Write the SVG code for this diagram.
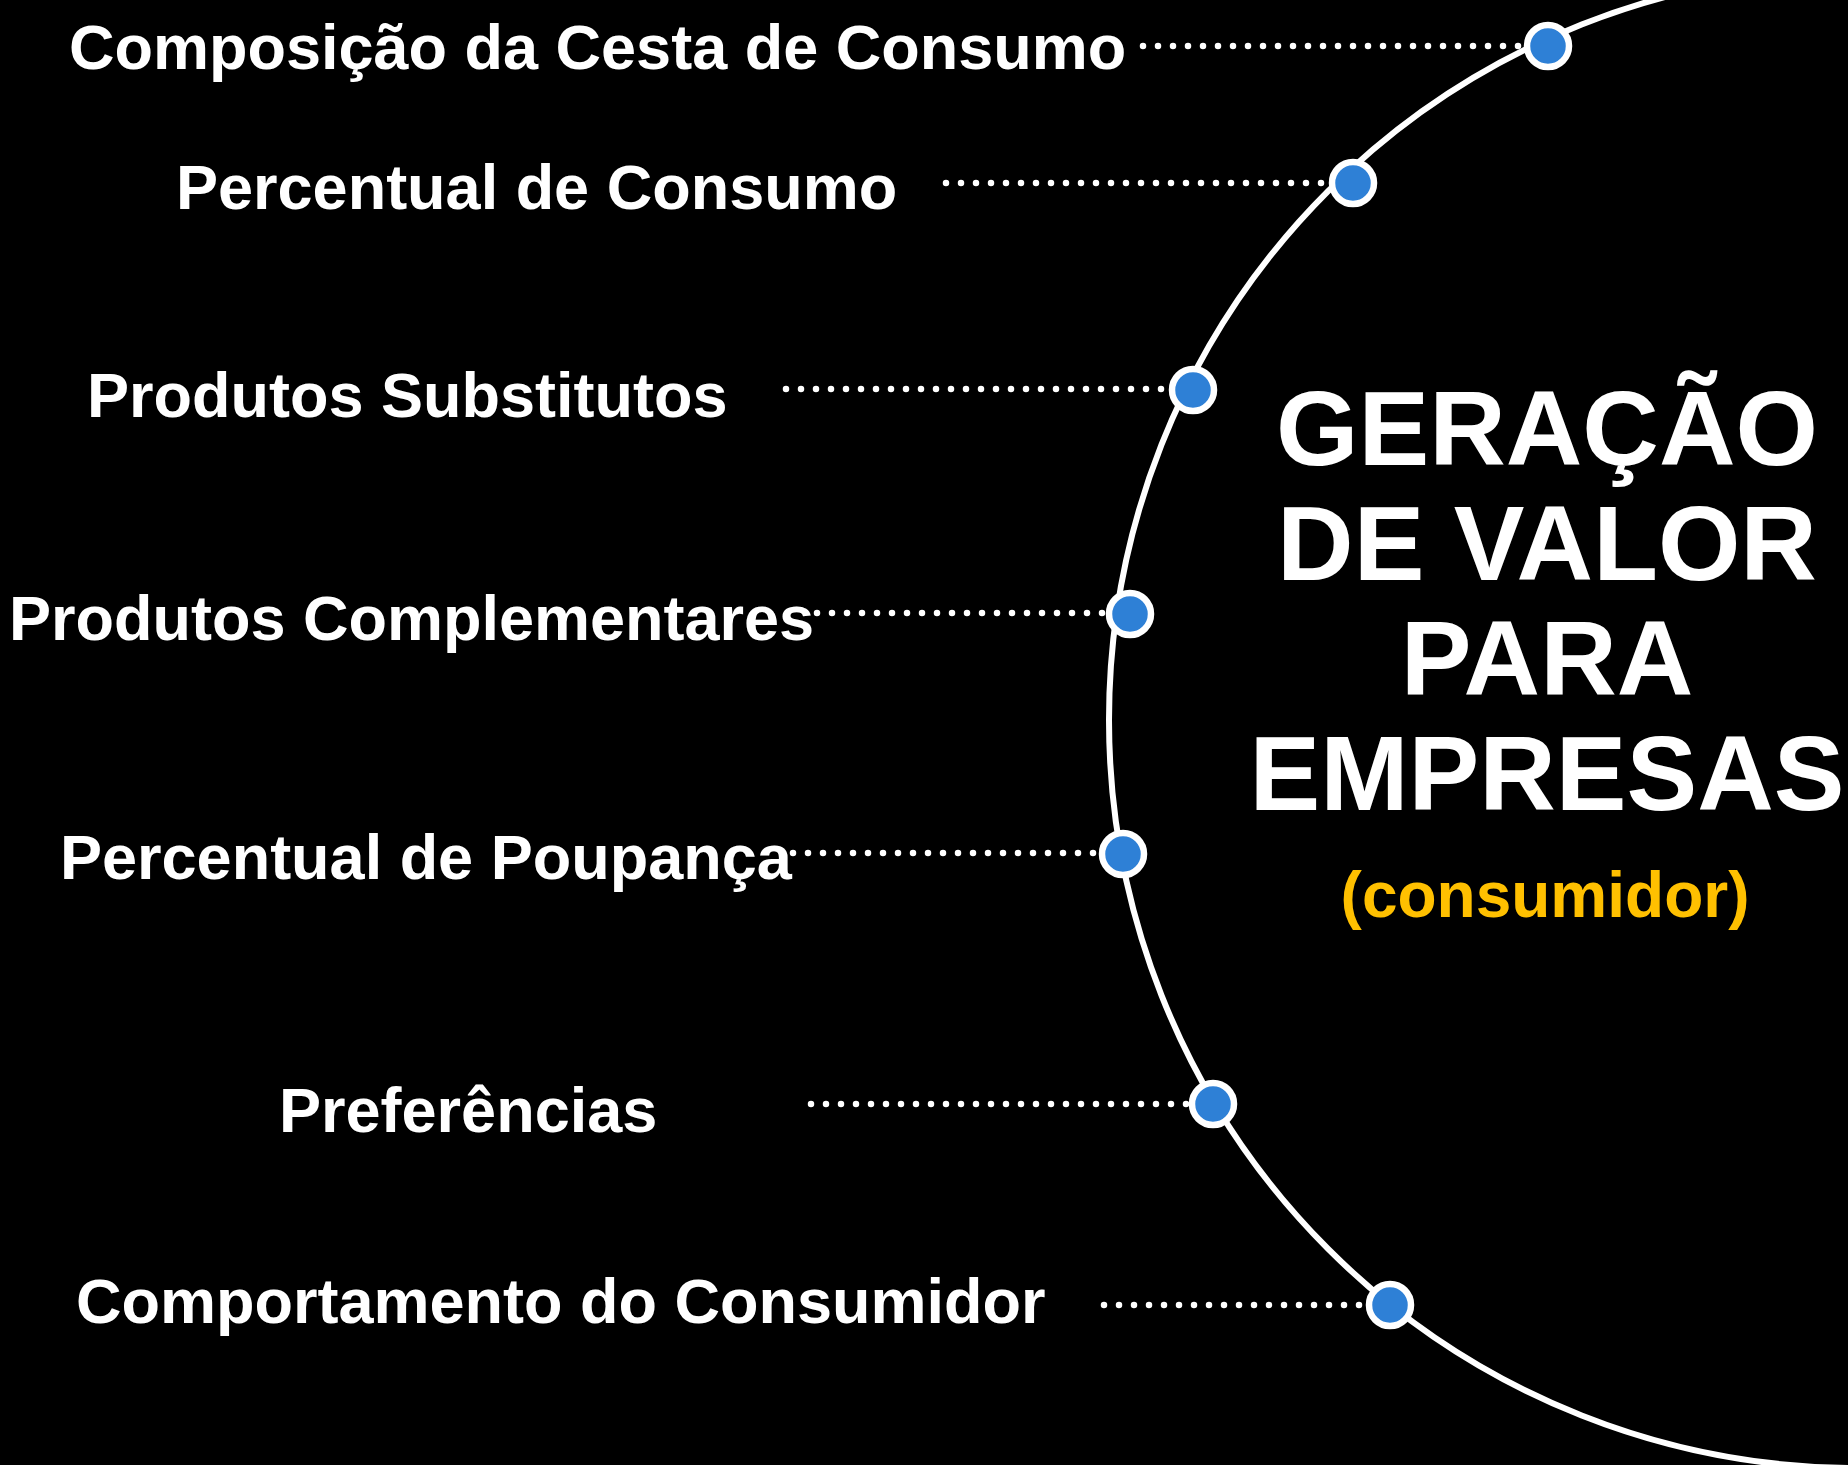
<svg xmlns="http://www.w3.org/2000/svg" width="1848" height="1465" viewBox="0 0 1848 1465">
  <style>
    .lbl { font-family: "Liberation Sans", Arial, sans-serif; font-weight: bold; font-size: 63px; fill: #ffffff; }
    .title { font-family: "Liberation Sans", Arial, sans-serif; font-weight: bold; font-size: 106px; fill: #ffffff; text-anchor: middle; }
    .sub { font-family: "Liberation Sans", Arial, sans-serif; font-weight: bold; font-size: 64px; fill: #FFC000; text-anchor: middle; }
    .dotline { stroke: #ffffff; stroke-width: 6.5; stroke-linecap: round; stroke-dasharray: 0 15; fill: none; }
    .arc { stroke: #ffffff; stroke-width: 6; fill: none; }
    .pin { fill: #2E80D6; stroke: #ffffff; stroke-width: 6.5; }
  </style>
  <rect x="0" y="0" width="1848" height="1465" fill="#000000"/>

  <g id="connectors">
    <line class="dotline" x1="1143" y1="46" x2="1530" y2="46"/>
    <line class="dotline" x1="946" y1="183" x2="1335" y2="183"/>
    <line class="dotline" x1="786" y1="389" x2="1175" y2="389"/>
    <line class="dotline" x1="817" y1="613" x2="1112" y2="613"/>
    <line class="dotline" x1="793" y1="853" x2="1105" y2="853"/>
    <line class="dotline" x1="811" y1="1104" x2="1195" y2="1104"/>
    <line class="dotline" x1="1104" y1="1305" x2="1372" y2="1305"/>
  </g>

  <g id="arc">
    <circle class="arc" cx="1857" cy="720" r="748"/>
  </g>

  <g id="title">
    <text class="title" x="1547" y="465">GERAÇÃO</text>
    <text class="title" x="1547" y="580">DE VALOR</text>
    <text class="title" x="1547" y="695">PARA</text>
    <text class="title" x="1547" y="810">EMPRESAS</text>
    <text class="sub" x="1545" y="917">(consumidor)</text>
  </g>

  <g id="node-composicao">
    <text class="lbl" x="69" y="69">Composição da Cesta de Consumo</text>
    <circle class="pin" cx="1548" cy="46" r="21"/>
  </g>
  <g id="node-percentual-consumo">
    <text class="lbl" x="176" y="209">Percentual de Consumo</text>
    <circle class="pin" cx="1353" cy="183" r="21"/>
  </g>
  <g id="node-substitutos">
    <text class="lbl" x="87" y="417">Produtos Substitutos</text>
    <circle class="pin" cx="1193" cy="390" r="21"/>
  </g>
  <g id="node-complementares">
    <text class="lbl" x="9" y="640">Produtos Complementares</text>
    <circle class="pin" cx="1130" cy="614" r="21"/>
  </g>
  <g id="node-poupanca">
    <text class="lbl" x="60" y="879">Percentual de Poupança</text>
    <circle class="pin" cx="1123" cy="854" r="21"/>
  </g>
  <g id="node-preferencias">
    <text class="lbl" x="279" y="1132">Preferências</text>
    <circle class="pin" cx="1213" cy="1104" r="21"/>
  </g>
  <g id="node-comportamento">
    <text class="lbl" x="76" y="1323">Comportamento do Consumidor</text>
    <circle class="pin" cx="1390" cy="1305" r="21"/>
  </g>
</svg>
